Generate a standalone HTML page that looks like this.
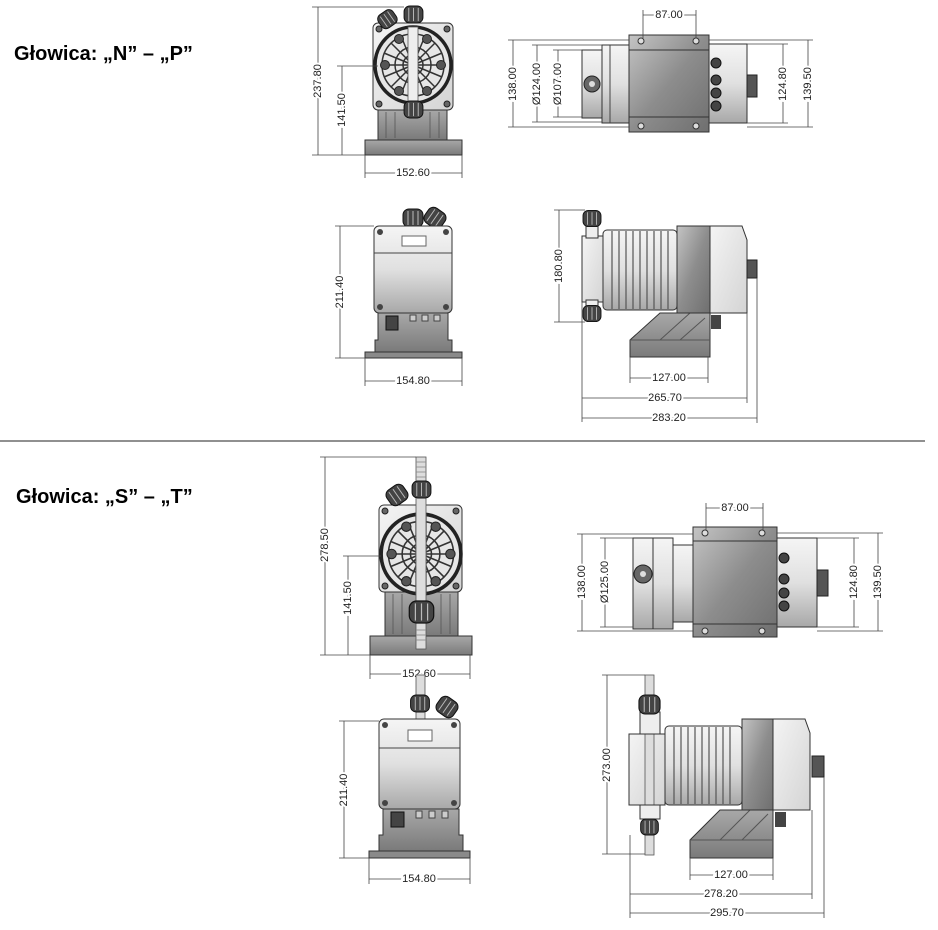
<!DOCTYPE html>
<html><head><meta charset="utf-8"><style>
html,body{margin:0;padding:0;background:#fff;width:938px;height:930px;overflow:hidden}
svg{display:block}
.t{font-family:"Liberation Sans",sans-serif;font-size:11px;fill:#222;stroke:#fff;stroke-width:4px;paint-order:stroke;text-anchor:middle;dominant-baseline:central}
.h{font-family:"Liberation Sans",sans-serif;font-size:20px;font-weight:bold;fill:#000}
.d{stroke:#444;stroke-width:0.8;fill:none}
.o{stroke:#333;stroke-width:1}
</style></head><body>
<svg width="938" height="930" viewBox="0 0 938 930" xmlns="http://www.w3.org/2000/svg">
<defs>
<linearGradient id="gl" x1="0" y1="0" x2="1" y2="1"><stop offset="0" stop-color="#f4f4f4"/><stop offset="1" stop-color="#d4d4d4"/></linearGradient>
<linearGradient id="gd" x1="0" y1="0" x2="1" y2="1"><stop offset="0" stop-color="#c4c4c4"/><stop offset="0.5" stop-color="#8d8d8d"/><stop offset="1" stop-color="#6f6f6f"/></linearGradient>
<linearGradient id="gb" x1="0" y1="0" x2="0" y2="1"><stop offset="0" stop-color="#a8a8a8"/><stop offset="1" stop-color="#7a7a7a"/></linearGradient>
<linearGradient id="gv" x1="0" y1="0" x2="0" y2="1"><stop offset="0" stop-color="#f5f5f5"/><stop offset="0.5" stop-color="#e0e0e0"/><stop offset="1" stop-color="#a8a8a8"/></linearGradient>
<symbol id="head" viewBox="-40 -40 80 80" overflow="visible">
<circle r="38" fill="#e6e6e6" stroke="#222" stroke-width="3.5"/>
<circle r="31" fill="none" stroke="#333" stroke-width="1.5"/>
<g stroke="#333" stroke-width="1.5">
<line x1="-31" y1="0" x2="31" y2="0"/><line x1="0" y1="-31" x2="0" y2="31"/>
<line x1="-22" y1="-22" x2="22" y2="22"/><line x1="22" y1="-22" x2="-22" y2="22"/>
<line x1="-12" y1="-29" x2="12" y2="29"/><line x1="12" y1="-29" x2="-12" y2="29"/>
<line x1="-29" y1="-12" x2="29" y2="12"/><line x1="29" y1="-12" x2="-29" y2="12"/>
</g>
<circle r="18" fill="none" stroke="#333" stroke-width="1.5"/>
<circle r="10" fill="none" stroke="#333" stroke-width="1.5"/>
<rect x="-5" y="-38" width="10" height="76" fill="#eee" stroke="#555" stroke-width="0.8"/>
<g fill="#555" stroke="#222"><circle cx="-14" cy="-26" r="4.5"/><circle cx="14" cy="-26" r="4.5"/><circle cx="-28" cy="0" r="4.5"/><circle cx="28" cy="0" r="4.5"/><circle cx="-14" cy="26" r="4.5"/><circle cx="14" cy="26" r="4.5"/></g>
</symbol>
<symbol id="nut" viewBox="0 0 20 18" overflow="visible">
<rect x="0" y="0" width="20" height="18" rx="6" fill="#444" stroke="#111"/>
<g stroke="#bbb" stroke-width="1"><line x1="5" y1="2" x2="5" y2="16"/><line x1="10" y1="2" x2="10" y2="16"/><line x1="15" y1="2" x2="15" y2="16"/></g>
</symbol>
</defs>

<text class="h" x="14" y="60">Głowica: „N” – „P”</text>
<line x1="0" y1="441" x2="925" y2="441" stroke="#222" stroke-width="1"/>
<text class="h" x="16" y="503">Głowica: „S” – „T”</text>

<!-- TOP front N -->
<rect x="378" y="110" width="69" height="30" fill="url(#gb)" class="o"/>
<g stroke="#555" stroke-width="0.8"><line x1="386" y1="112" x2="386" y2="138"/><line x1="395" y1="112" x2="395" y2="138"/><line x1="430" y1="112" x2="430" y2="138"/><line x1="439" y1="112" x2="439" y2="138"/></g>
<path d="M365 140 H462 V155 H365 Z" fill="url(#gb)" class="o"/>
<rect x="373" y="23" width="80" height="87" rx="5" fill="url(#gl)" class="o"/>
<g fill="#666" stroke="#222"><circle cx="379" cy="29" r="3"/><circle cx="447" cy="29" r="3"/><circle cx="379" cy="104" r="3"/><circle cx="447" cy="104" r="3"/></g>
<use href="#head" x="373" y="25" width="80" height="80"/>
<use href="#nut" x="404" y="6" width="19" height="17"/>
<use href="#nut" x="404" y="101" width="19" height="17"/>
<g transform="translate(388 20) rotate(-35)"><use href="#nut" x="-9" y="-9" width="18" height="16"/></g>
<line x1="318" y1="7" x2="318" y2="155" class="d"/><line x1="312" y1="7" x2="404" y2="7" class="d"/><line x1="312" y1="155" x2="365" y2="155" class="d"/>
<text class="t" transform="translate(318 81) rotate(-90)">237.80</text>
<line x1="342" y1="66" x2="342" y2="155" class="d"/><line x1="337" y1="66" x2="378" y2="66" class="d"/>
<text class="t" transform="translate(342 110) rotate(-90)">141.50</text>
<line x1="365" y1="173" x2="462" y2="173" class="d"/><line x1="365" y1="155" x2="365" y2="178" class="d"/><line x1="462" y1="155" x2="462" y2="178" class="d"/>
<text class="t" x="413" y="173">152.60</text>

<!-- TOP top view N -->
<rect x="582" y="50" width="20" height="68" fill="url(#gv)" class="o"/>
<rect x="602" y="45" width="28" height="78" fill="url(#gv)" class="o"/>
<line x1="610" y1="45" x2="610" y2="123" stroke="#444"/>
<circle cx="592" cy="84" r="8" fill="#666" stroke="#222"/><circle cx="592" cy="84" r="3" fill="#ddd"/>
<rect x="629" y="35" width="80" height="97" fill="url(#gd)" class="o"/>
<line x1="629" y1="50" x2="709" y2="50" stroke="#333"/><line x1="629" y1="117" x2="709" y2="117" stroke="#333"/>
<g fill="#ddd" stroke="#333"><circle cx="641" cy="41" r="3"/><circle cx="696" cy="41" r="3"/><circle cx="641" cy="126" r="3"/><circle cx="696" cy="126" r="3"/></g>
<rect x="709" y="44" width="38" height="79" fill="url(#gv)" class="o"/>
<g fill="#444" stroke="#111"><circle cx="716" cy="63" r="5"/><circle cx="716" cy="80" r="5"/><circle cx="716" cy="93" r="5"/><circle cx="716" cy="106" r="5"/></g>
<rect x="747" y="75" width="10" height="22" fill="#555" stroke="#222"/>
<line x1="643" y1="15" x2="696" y2="15" class="d"/><line x1="643" y1="10" x2="643" y2="38" class="d"/><line x1="696" y1="10" x2="696" y2="38" class="d"/>
<text class="t" x="669" y="15">87.00</text>
<line x1="513" y1="40" x2="513" y2="127" class="d"/><line x1="508" y1="40" x2="629" y2="40" class="d"/><line x1="508" y1="127" x2="629" y2="127" class="d"/>
<text class="t" transform="translate(513 84) rotate(-90)">138.00</text>
<line x1="537" y1="45" x2="537" y2="122" class="d"/><line x1="532" y1="45" x2="602" y2="45" class="d"/><line x1="532" y1="122" x2="602" y2="122" class="d"/>
<text class="t" transform="translate(537 84) rotate(-90)">Ø124.00</text>
<line x1="558" y1="50" x2="558" y2="117" class="d"/><line x1="553" y1="50" x2="582" y2="50" class="d"/><line x1="553" y1="117" x2="582" y2="117" class="d"/>
<text class="t" transform="translate(558 84) rotate(-90)">Ø107.00</text>
<line x1="783" y1="44" x2="783" y2="123" class="d"/><line x1="747" y1="44" x2="788" y2="44" class="d"/><line x1="747" y1="123" x2="788" y2="123" class="d"/>
<text class="t" transform="translate(783 84) rotate(-90)">124.80</text>
<line x1="808" y1="40" x2="808" y2="127" class="d"/><line x1="709" y1="40" x2="813" y2="40" class="d"/><line x1="747" y1="127" x2="813" y2="127" class="d"/>
<text class="t" transform="translate(808 84) rotate(-90)">139.50</text>

<!-- TOP control N -->
<path d="M378 313 H448 V340 H452 V352 H375 V340 H378 Z" fill="url(#gb)" class="o"/>
<rect x="365" y="352" width="97" height="6" fill="#8a8a8a" class="o"/>
<rect x="386" y="316" width="12" height="14" fill="#444" stroke="#111"/>
<g fill="#ccc" stroke="#444"><rect x="410" y="315" width="6" height="6"/><rect x="422" y="315" width="6" height="6"/><rect x="434" y="315" width="6" height="6"/></g>
<use href="#nut" x="403" y="209" width="20" height="18"/>
<g transform="translate(435 218) rotate(35)"><use href="#nut" x="-10" y="-9" width="20" height="18"/></g>
<rect x="374" y="226" width="78" height="87" rx="5" fill="url(#gv)" class="o"/>
<line x1="374" y1="253" x2="452" y2="253" stroke="#444"/>
<rect x="402" y="236" width="24" height="10" fill="#fff" stroke="#666"/>
<g fill="#444"><circle cx="380" cy="232" r="3"/><circle cx="446" cy="232" r="3"/><circle cx="380" cy="307" r="3"/><circle cx="446" cy="307" r="3"/></g>
<line x1="340" y1="226" x2="340" y2="358" class="d"/><line x1="335" y1="226" x2="374" y2="226" class="d"/><line x1="335" y1="358" x2="365" y2="358" class="d"/>
<text class="t" transform="translate(340 292) rotate(-90)">211.40</text>
<line x1="365" y1="381" x2="462" y2="381" class="d"/><line x1="365" y1="358" x2="365" y2="386" class="d"/><line x1="462" y1="358" x2="462" y2="386" class="d"/>
<text class="t" x="413" y="381">154.80</text>

<!-- TOP side N -->
<path d="M630 357 V340 L660 313 H710 V357 Z" fill="url(#gb)" class="o"/>
<g stroke="#555"><line x1="660" y1="340" x2="690" y2="313"/><line x1="680" y1="340" x2="705" y2="318"/><line x1="630" y1="340" x2="710" y2="340"/></g>
<rect x="711" y="315" width="10" height="14" fill="#444"/>
<rect x="603" y="230" width="74" height="80" rx="4" fill="url(#gv)" class="o"/>
<g stroke="#555" stroke-width="1.2"><line x1="612" y1="231" x2="612" y2="309"/><line x1="619" y1="231" x2="619" y2="309"/><line x1="626" y1="231" x2="626" y2="309"/><line x1="633" y1="231" x2="633" y2="309"/><line x1="640" y1="231" x2="640" y2="309"/><line x1="647" y1="231" x2="647" y2="309"/><line x1="654" y1="231" x2="654" y2="309"/><line x1="661" y1="231" x2="661" y2="309"/><line x1="668" y1="231" x2="668" y2="309"/></g>
<rect x="582" y="236" width="21" height="66" fill="url(#gl)" class="o"/>
<rect x="586" y="226" width="12" height="12" fill="#eee" class="o"/><rect x="586" y="300" width="12" height="8" fill="#eee" class="o"/>
<use href="#nut" x="583" y="210" width="18" height="17"/><use href="#nut" x="583" y="305" width="18" height="17"/>
<rect x="677" y="226" width="33" height="87" fill="url(#gd)" class="o"/>
<path d="M710 226 H742 L747 240 V313 H710 Z" fill="url(#gl)" class="o"/>
<rect x="747" y="260" width="10" height="18" fill="#555" stroke="#222"/>
<line x1="559" y1="210" x2="559" y2="322" class="d"/><line x1="554" y1="210" x2="585" y2="210" class="d"/><line x1="554" y1="322" x2="585" y2="322" class="d"/>
<text class="t" transform="translate(559 266) rotate(-90)">180.80</text>
<line x1="630" y1="378" x2="708" y2="378" class="d"/><line x1="630" y1="357" x2="630" y2="383" class="d"/><line x1="708" y1="357" x2="708" y2="383" class="d"/>
<text class="t" x="669" y="378">127.00</text>
<line x1="582" y1="398" x2="747" y2="398" class="d"/><line x1="582" y1="302" x2="582" y2="422" class="d"/><line x1="747" y1="313" x2="747" y2="403" class="d"/>
<text class="t" x="665" y="398">265.70</text>
<line x1="582" y1="418" x2="757" y2="418" class="d"/><line x1="757" y1="278" x2="757" y2="423" class="d"/>
<text class="t" x="669" y="418">283.20</text>

<!-- BOTTOM front S -->
<rect x="385" y="592" width="73" height="44" fill="url(#gb)" class="o"/>
<g stroke="#555" stroke-width="0.8"><line x1="393" y1="594" x2="393" y2="634"/><line x1="402" y1="594" x2="402" y2="634"/><line x1="441" y1="594" x2="441" y2="634"/><line x1="450" y1="594" x2="450" y2="634"/></g>
<path d="M370 636 H472 V655 H370 Z" fill="url(#gb)" class="o"/>
<rect x="379" y="505" width="83" height="87" rx="5" fill="url(#gl)" class="o"/>
<g fill="#666" stroke="#222"><circle cx="385" cy="511" r="3"/><circle cx="456" cy="511" r="3"/><circle cx="385" cy="586" r="3"/><circle cx="456" cy="586" r="3"/></g>
<use href="#head" x="379" y="512" width="84" height="84"/>
<rect x="416" y="457" width="10" height="192" fill="#ddd" stroke="#555" stroke-width="0.8"/>
<g stroke="#888" stroke-width="0.8"><line x1="416" y1="462" x2="426" y2="462"/><line x1="416" y1="467" x2="426" y2="467"/><line x1="416" y1="472" x2="426" y2="472"/><line x1="416" y1="477" x2="426" y2="477"/><line x1="416" y1="630" x2="426" y2="630"/><line x1="416" y1="635" x2="426" y2="635"/><line x1="416" y1="640" x2="426" y2="640"/></g>
<use href="#nut" x="409" y="481" width="25" height="17"/>
<use href="#nut" x="409" y="601" width="25" height="22"/>
<g transform="translate(397 495) rotate(-35)"><use href="#nut" x="-10" y="-9" width="20" height="18"/></g>
<line x1="325" y1="457" x2="325" y2="655" class="d"/><line x1="320" y1="457" x2="416" y2="457" class="d"/><line x1="320" y1="655" x2="370" y2="655" class="d"/>
<text class="t" transform="translate(325 545) rotate(-90)">278.50</text>
<line x1="348" y1="556" x2="348" y2="655" class="d"/><line x1="343" y1="556" x2="381" y2="556" class="d"/>
<text class="t" transform="translate(348 598) rotate(-90)">141.50</text>
<line x1="370" y1="674" x2="470" y2="674" class="d"/><line x1="370" y1="655" x2="370" y2="679" class="d"/><line x1="470" y1="655" x2="470" y2="679" class="d"/>
<text class="t" x="419" y="674">152.60</text>

<!-- BOTTOM top view S -->
<rect x="633" y="538" width="20" height="91" fill="url(#gv)" class="o"/>
<rect x="653" y="538" width="20" height="91" fill="url(#gv)" class="o"/>
<rect x="673" y="545" width="20" height="77" fill="url(#gv)" class="o"/>
<circle cx="643" cy="574" r="9" fill="#666" stroke="#222"/><circle cx="643" cy="574" r="3" fill="#ddd"/>
<rect x="693" y="527" width="84" height="110" fill="url(#gd)" class="o"/>
<line x1="693" y1="541" x2="777" y2="541" stroke="#333"/><line x1="693" y1="624" x2="777" y2="624" stroke="#333"/>
<g fill="#ddd" stroke="#333"><circle cx="705" cy="533" r="3"/><circle cx="762" cy="533" r="3"/><circle cx="705" cy="631" r="3"/><circle cx="762" cy="631" r="3"/></g>
<rect x="777" y="538" width="40" height="89" fill="url(#gv)" class="o"/>
<g fill="#444" stroke="#111"><circle cx="784" cy="558" r="5"/><circle cx="784" cy="579" r="5"/><circle cx="784" cy="593" r="5"/><circle cx="784" cy="606" r="5"/></g>
<rect x="817" y="570" width="11" height="26" fill="#555" stroke="#222"/>
<line x1="706" y1="508" x2="763" y2="508" class="d"/><line x1="706" y1="503" x2="706" y2="530" class="d"/><line x1="763" y1="503" x2="763" y2="530" class="d"/>
<text class="t" x="735" y="508">87.00</text>
<line x1="582" y1="534" x2="582" y2="631" class="d"/><line x1="577" y1="534" x2="693" y2="534" class="d"/><line x1="577" y1="631" x2="693" y2="631" class="d"/>
<text class="t" transform="translate(582 582) rotate(-90)">138.00</text>
<line x1="605" y1="538" x2="605" y2="627" class="d"/><line x1="600" y1="538" x2="633" y2="538" class="d"/><line x1="600" y1="627" x2="633" y2="627" class="d"/>
<text class="t" transform="translate(605 582) rotate(-90)">Ø125.00</text>
<line x1="854" y1="538" x2="854" y2="627" class="d"/><line x1="817" y1="538" x2="859" y2="538" class="d"/><line x1="817" y1="627" x2="859" y2="627" class="d"/>
<text class="t" transform="translate(854 582) rotate(-90)">124.80</text>
<line x1="878" y1="533" x2="878" y2="631" class="d"/><line x1="777" y1="533" x2="883" y2="533" class="d"/><line x1="817" y1="631" x2="883" y2="631" class="d"/>
<text class="t" transform="translate(878 582) rotate(-90)">139.50</text>

<!-- BOTTOM control S -->
<path d="M383 809 H459 V835 H463 V851 H379 V835 H383 Z" fill="url(#gb)" class="o"/>
<rect x="369" y="851" width="101" height="7" fill="#8a8a8a" class="o"/>
<rect x="391" y="812" width="13" height="15" fill="#444" stroke="#111"/>
<g fill="#ccc" stroke="#444"><rect x="416" y="811" width="6" height="7"/><rect x="429" y="811" width="6" height="7"/><rect x="442" y="811" width="6" height="7"/></g>
<rect x="416" y="675" width="9" height="45" fill="#ddd" stroke="#555" stroke-width="0.8"/>
<use href="#nut" x="408" y="695" width="24" height="17"/>
<g transform="translate(447 707) rotate(35)"><use href="#nut" x="-10" y="-9" width="20" height="18"/></g>
<rect x="379" y="719" width="81" height="90" rx="5" fill="url(#gv)" class="o"/>
<line x1="379" y1="748" x2="460" y2="748" stroke="#444"/>
<rect x="408" y="730" width="24" height="11" fill="#fff" stroke="#666"/>
<g fill="#444"><circle cx="385" cy="725" r="3"/><circle cx="454" cy="725" r="3"/><circle cx="385" cy="803" r="3"/><circle cx="454" cy="803" r="3"/></g>
<line x1="344" y1="721" x2="344" y2="858" class="d"/><line x1="339" y1="721" x2="379" y2="721" class="d"/><line x1="339" y1="858" x2="369" y2="858" class="d"/>
<text class="t" transform="translate(344 790) rotate(-90)">211.40</text>
<line x1="369" y1="879" x2="470" y2="879" class="d"/><line x1="369" y1="858" x2="369" y2="884" class="d"/><line x1="470" y1="858" x2="470" y2="884" class="d"/>
<text class="t" x="419" y="879">154.80</text>

<!-- BOTTOM side S -->
<path d="M690 858 V840 L720 810 H773 V858 Z" fill="url(#gb)" class="o"/>
<g stroke="#555"><line x1="720" y1="840" x2="750" y2="810"/><line x1="742" y1="840" x2="768" y2="814"/><line x1="690" y1="840" x2="773" y2="840"/></g>
<rect x="775" y="812" width="11" height="15" fill="#444"/>
<rect x="665" y="726" width="77" height="79" rx="4" fill="url(#gv)" class="o"/>
<g stroke="#555" stroke-width="1.2"><line x1="674" y1="727" x2="674" y2="804"/><line x1="681" y1="727" x2="681" y2="804"/><line x1="688" y1="727" x2="688" y2="804"/><line x1="695" y1="727" x2="695" y2="804"/><line x1="702" y1="727" x2="702" y2="804"/><line x1="709" y1="727" x2="709" y2="804"/><line x1="716" y1="727" x2="716" y2="804"/><line x1="723" y1="727" x2="723" y2="804"/><line x1="730" y1="727" x2="730" y2="804"/></g>
<rect x="629" y="734" width="36" height="71" fill="url(#gl)" class="o"/>
<line x1="647" y1="734" x2="647" y2="805" stroke="#444"/>
<rect x="645" y="675" width="9" height="180" fill="#ddd" stroke="#555" stroke-width="0.8"/>
<rect x="640" y="712" width="20" height="22" fill="#eee" class="o"/><rect x="640" y="805" width="20" height="14" fill="#eee" class="o"/>
<use href="#nut" x="638" y="695" width="23" height="19"/><use href="#nut" x="638" y="819" width="23" height="16"/>
<rect x="742" y="719" width="31" height="91" fill="url(#gd)" class="o"/>
<path d="M773 719 H805 L810 733 V810 H773 Z" fill="url(#gl)" class="o"/>
<rect x="812" y="756" width="12" height="21" fill="#555" stroke="#222"/>
<line x1="607" y1="675" x2="607" y2="854" class="d"/><line x1="602" y1="675" x2="645" y2="675" class="d"/><line x1="602" y1="854" x2="645" y2="854" class="d"/>
<text class="t" transform="translate(607 765) rotate(-90)">273.00</text>
<line x1="690" y1="875" x2="773" y2="875" class="d"/><line x1="690" y1="858" x2="690" y2="880" class="d"/><line x1="773" y1="858" x2="773" y2="880" class="d"/>
<text class="t" x="731" y="875">127.00</text>
<line x1="630" y1="894" x2="812" y2="894" class="d"/><line x1="630" y1="835" x2="630" y2="918" class="d"/><line x1="812" y1="810" x2="812" y2="899" class="d"/>
<text class="t" x="721" y="894">278.20</text>
<line x1="630" y1="913" x2="824" y2="913" class="d"/><line x1="824" y1="777" x2="824" y2="918" class="d"/>
<text class="t" x="727" y="913">295.70</text>
</svg>
</body></html>
